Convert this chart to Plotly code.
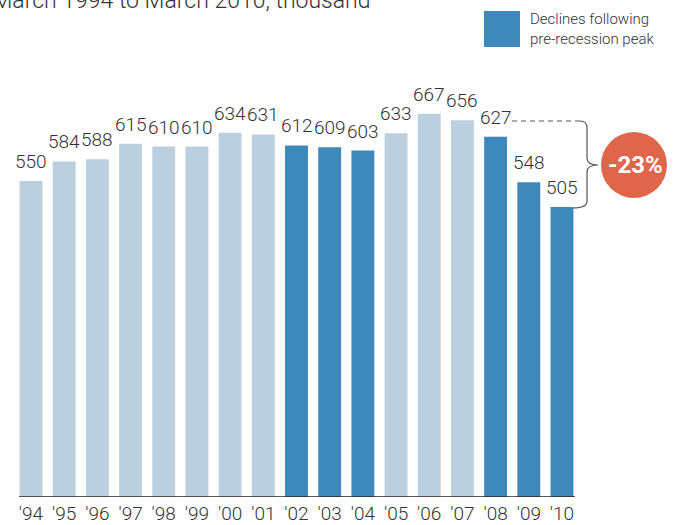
import plotly.graph_objects as go

years = ["'94", "'95", "'96", "'97", "'98", "'99", "'00", "'01", "'02",
         "'03", "'04", "'05", "'06", "'07", "'08", "'09", "'10"]
values = [550, 584, 588, 615, 610, 610, 634, 631, 612,
          609, 603, 633, 667, 656, 627, 548, 505]
declining = [False, False, False, False, False, False, False, False, True,
             True, True, False, False, False, True, True, True]

LIGHT = "#bccfdf"
DARK = "#3e88bb"
RED = "#df654b"
FONT = "Roboto, sans-serif"

W, H = 673, 525
L, R, T, B = 13, 93, 60, 28
YMAX = (H - B - T) / 0.5745


def px(x):
    return (x - L) / (W - L - R)


def py(y):
    return (H - B - y) / (H - B - T)


fig = go.Figure(
    go.Bar(
        x=years,
        y=values,
        marker_color=[DARK if d else LIGHT for d in declining],
        marker_line_width=0,
        hoverinfo="skip",
    )
)

for yr, v in zip(years, values):
    fig.add_annotation(x=yr, y=v, text=str(v), showarrow=False,
                       yanchor="bottom", yshift=6,
                       font=dict(family=FONT, size=19, color="#333333", weight=300))

# baseline
fig.add_shape(type="line", xref="paper", yref="y",
              x0=px(19), x1=px(575), y0=0, y1=0,
              line=dict(color="#222222", width=1.5))

# dashed leader from the 627 label
fig.add_shape(type="line", xref="paper", yref="paper",
              x0=px(512), x1=px(580), y0=py(121), y1=py(121),
              line=dict(color="#555555", width=1, dash="5px,4px"))

# curly brace
path = "M {},{} Q {},{} {},{} L {},{} Q {},{} {},{} Q {},{} {},{} L {},{} Q {},{} {},{}".format(
    px(580), py(121),
    px(587), py(121), px(587), py(128),
    px(587), py(158),
    px(587), py(165), px(598), py(165),
    px(587), py(165), px(587), py(172),
    px(587), py(201),
    px(587), py(208), px(573), py(208),
)
fig.add_shape(type="path", xref="paper", yref="paper", path=path,
              line=dict(color="#555555", width=1.2))

# red circle with percentage
fig.add_shape(type="circle", xref="paper", yref="paper",
              x0=px(601), x1=px(667), y0=py(198), y1=py(132),
              fillcolor=RED, line_width=0)
fig.add_annotation(xref="paper", yref="paper", x=px(635), y=py(165),
                   xanchor="center", yanchor="middle",
                   text="<b>-23%</b>", showarrow=False,
                   font=dict(family=FONT, size=24, color="white"))

# legend
fig.add_shape(type="rect", xref="paper", yref="paper",
              x0=px(484), x1=px(520), y0=py(47), y1=py(11),
              fillcolor=DARK, line_width=0)
fig.add_annotation(xref="paper", yref="paper", x=px(528), y=py(29),
                   xanchor="left", yanchor="middle", align="left",
                   text="Declines following<br>pre-recession peak", showarrow=False,
                   font=dict(family=FONT, size=15, color="#333333", weight=300))

# subtitle, cropped at the top edge as in the original
fig.add_annotation(xref="paper", yref="paper", x=px(372), y=py(0),
                   xanchor="right", yanchor="middle",
                   text="Employment, March 1994 to March 2010, thousand", showarrow=False,
                   font=dict(family=FONT, size=23, color="#333333", weight=300))

fig.update_layout(
    width=W, height=H,
    margin=dict(l=L, r=R, t=T, b=B),
    paper_bgcolor="white", plot_bgcolor="white",
    bargap=0.31,
    showlegend=False,
    xaxis=dict(showline=False, showgrid=False, ticks="", ticklabelstandoff=3,
               automargin=False,
               tickfont=dict(family=FONT, size=19, color="#333333", weight=300)),
    yaxis=dict(range=[0, YMAX], visible=False, automargin=False),
)

fig.write_html("out.html", config={"displayModeBar": False},
               post_script="document.body.style.margin='0';")
